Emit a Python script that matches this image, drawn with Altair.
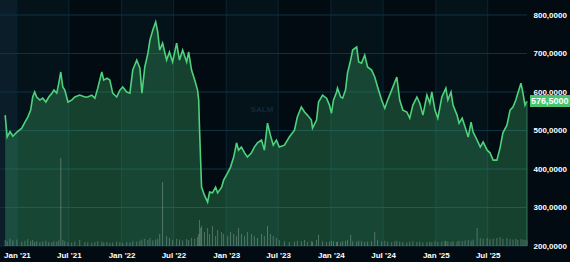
import altair as alt
import pandas as pd

# ---- data (SALM, NOK) ----
dates = [
    "2020-11-21", "2020-11-28", "2020-12-08", "2020-12-18", "2021-01-01", "2021-01-18", "2021-01-29",
    "2021-02-08", "2021-02-18", "2021-02-25", "2021-03-04", "2021-03-11", "2021-03-22", "2021-04-01",
    "2021-04-12", "2021-04-22", "2021-05-03", "2021-05-10", "2021-05-20", "2021-05-27", "2021-06-03",
    "2021-06-10", "2021-06-17", "2021-06-28", "2021-07-11", "2021-07-22", "2021-08-08", "2021-08-26",
    "2021-09-05", "2021-09-19", "2021-09-30", "2021-10-10", "2021-10-24", "2021-10-31", "2021-11-11",
    "2021-11-21", "2021-12-01", "2021-12-15", "2021-12-26", "2022-01-05", "2022-01-19", "2022-01-30",
    "2022-02-09", "2022-02-23", "2022-03-06", "2022-03-13", "2022-03-23", "2022-04-03", "2022-04-10",
    "2022-04-20", "2022-04-30", "2022-05-07", "2022-05-14", "2022-05-24", "2022-06-07", "2022-06-17",
    "2022-06-28", "2022-07-12", "2022-07-22", "2022-08-02", "2022-08-16", "2022-08-23", "2022-09-02",
    "2022-09-13", "2022-09-23", "2022-09-27", "2022-09-30", "2022-10-04", "2022-10-07", "2022-10-17",
    "2022-10-28", "2022-11-04", "2022-11-14", "2022-11-25", "2022-12-02", "2022-12-16", "2022-12-23",
    "2023-01-06", "2023-01-16", "2023-01-27", "2023-02-06", "2023-02-13", "2023-02-23", "2023-03-06",
    "2023-03-16", "2023-03-30", "2023-04-09", "2023-04-20", "2023-05-04", "2023-05-14", "2023-05-25",
    "2023-06-04", "2023-06-14", "2023-06-25", "2023-07-05", "2023-07-23", "2023-08-09", "2023-08-27",
    "2023-09-06", "2023-09-20", "2023-10-01", "2023-10-11", "2023-10-25", "2023-10-29", "2023-11-12",
    "2023-11-19", "2023-12-03", "2023-12-17", "2023-12-27", "2024-01-03", "2024-01-10", "2024-01-21",
    "2024-01-24", "2024-02-04", "2024-02-11", "2024-02-21", "2024-02-28", "2024-03-10", "2024-03-17",
    "2024-03-31", "2024-04-07", "2024-04-17", "2024-04-28", "2024-05-08", "2024-05-22", "2024-06-02",
    "2024-06-12", "2024-06-26", "2024-07-07", "2024-07-17", "2024-07-31", "2024-08-11", "2024-08-18",
    "2024-08-28", "2024-09-08", "2024-09-22", "2024-10-02", "2024-10-13", "2024-10-27", "2024-11-06",
    "2024-11-17", "2024-12-01", "2024-12-11", "2024-12-18", "2024-12-29", "2025-01-08", "2025-01-22",
    "2025-02-02", "2025-02-05", "2025-02-12", "2025-02-23", "2025-03-02", "2025-03-16", "2025-03-23",
    "2025-04-03", "2025-04-13", "2025-04-24", "2025-05-04", "2025-05-11", "2025-05-25", "2025-06-05",
    "2025-06-15", "2025-06-29", "2025-07-09", "2025-07-20", "2025-08-02", "2025-08-13", "2025-08-23",
    "2025-09-06", "2025-09-17", "2025-09-27", "2025-10-07", "2025-10-14", "2025-10-25", "2025-11-01",
    "2025-11-08", "2025-11-15",
]
prices = [
    540, 483, 497, 485, 496, 506, 522,
    535, 553, 587, 600, 587, 579, 584,
    574, 587, 597, 605, 597, 623, 652,
    613, 605, 574, 579, 587, 592, 587,
    587, 592, 584, 610, 652, 631, 636,
    631, 597, 587, 605, 613, 600, 597,
    657, 683, 662, 597, 665, 701, 735,
    761, 782, 756, 709, 727, 683, 704,
    678, 727, 683, 709, 678, 704, 657,
    631, 605, 579, 501, 416, 353, 332,
    314, 340, 338, 353, 338, 353, 371,
    390, 405, 431, 468, 449, 457, 442,
    431, 442, 457, 468, 475, 449, 519,
    488, 462, 475, 457, 462, 483, 501,
    535, 561, 548, 540, 527, 506, 527,
    574, 592, 584, 566, 545, 579, 600,
    610, 587, 584, 605, 649, 683, 709,
    717, 678, 675, 696, 665, 657, 639,
    613, 579, 558, 579, 605, 626, 639,
    579, 553, 548, 532, 566, 587, 571,
    540, 592, 571, 600, 553, 532, 587,
    605, 610, 579, 600, 566, 540, 519,
    532, 509, 483, 522, 496, 475, 457,
    470, 449, 442, 423, 423, 455, 494,
    514, 553, 561, 579, 597, 623, 597,
    566, 576.5,
]
volumes = [
    150, 120, 180, 140, 160, 110, 130,
    170, 120, 150, 100, 120, 90, 110,
    130, 100, 90, 120, 110, 140, 2200,
    150, 120, 100, 90, 110, 150, 100,
    90, 80, 100, 120, 110, 90, 100,
    80, 90, 110, 100, 80, 100, 90,
    120, 110, 130, 160, 180, 150, 200,
    140, 160, 180, 300, 1600, 250, 200,
    150, 180, 160, 140, 170, 150, 200,
    180, 220, 300, 650, 450, 500, 350,
    450, 300, 500, 250, 400, 350, 300,
    250, 350, 300, 250, 450, 300, 250,
    350, 300, 250, 200, 300, 250, 500,
    300, 250, 200, 150, 120, 100, 110,
    130, 120, 150, 100, 120, 110, 150,
    280, 120, 100, 110, 130, 120, 100,
    110, 90, 120, 130, 150, 280, 120,
    110, 130, 120, 100, 110, 120, 350,
    150, 120, 130, 110, 100, 120, 130,
    110, 100, 90, 110, 120, 100, 110,
    90, 100, 110, 90, 120, 100, 110,
    130, 120, 110, 100, 120, 110, 130,
    120, 140, 150, 130, 160, 450, 200,
    180, 200, 170, 180, 200, 220, 180,
    200, 170, 160, 180, 150, 170, 160,
    150, 140,
]
x_ticks = [(2021, 1), (2021, 7), (2022, 1), (2022, 7), (2023, 1), (2023, 7),
           (2024, 1), (2024, 7), (2025, 1), (2025, 7)]
y_ticks = [200, 300, 400, 500, 600, 700, 800]
band_start = ["2020-11-03", "2021-01-01", "2022-01-01", "2023-01-01", "2024-01-01", "2025-01-01"]
band_end = ["2021-01-01", "2021-07-01", "2022-07-01", "2023-07-01", "2024-07-01", "2025-07-01"]
band_shade = ["#0a1d28", "#04121a", "#04121a", "#04121a", "#04121a", "#04121a"]
ticker = "SALM"

# ---- styling ----
BG = "#020b11"
LINE = "#4fd27c"
GRID = "#0e3242"
W, H = 527, 246
Y_DOMAIN = [200, 839]

df = pd.DataFrame({"date": dates, "price": prices, "volume": volumes})
last = df.tail(1)
grid_x = pd.DataFrame({"date": [f"{y}-{m:02d}-01" for y, m in x_ticks]})
grid_y = pd.DataFrame({"v": y_ticks})
bands = pd.DataFrame({"s": band_start, "e": band_end, "c": band_shade})

xscale = alt.Scale(type="utc",
                   domain=[alt.DateTime(year=2020, month=11, date=3, utc=True),
                           alt.DateTime(year=2025, month=11, date=15, utc=True)])
yscale = alt.Scale(domain=Y_DOMAIN, nice=False, zero=False)

XAXIS = alt.Axis(
    values=[alt.DateTime(year=y, month=m, date=1, utc=True) for y, m in x_ticks],
    labelExpr="utcFormat(datum.value, '%b') + \" '\" + utcFormat(datum.value, '%y')",
    labelColor="#ffffff", labelFontSize=8, labelFontWeight="bold", labelFont="Liberation Sans",
    labelPadding=5, ticks=False, domain=False, grid=False, title=None, labelAngle=0,
    labelOverlap=False,
)
YAXIS = alt.Axis(
    values=y_ticks, orient="right",
    labelExpr="replace(format(datum.value, '.4f'), '.', ',')",
    labelColor="#ffffff", labelFontSize=8, labelFontWeight="bold", labelFont="Liberation Sans",
    labelPadding=6, ticks=False, domain=False, grid=False, title=None, labelAlign="left",
    labelOverlap=False,
)


def X(field):
    return alt.X(field, scale=xscale, axis=XAXIS, title=None)


def Y(field):
    return alt.Y(field, scale=yscale, axis=YAXIS, title=None)


band_layer = alt.Chart(bands).mark_rect().encode(
    x=X("s:T"), x2="e:T",
    color=alt.Color("c:N", scale=None),
)
vgrid = alt.Chart(grid_x).mark_rule(color="#0a2632", strokeWidth=1).encode(x=X("date:T"))
hgrid = alt.Chart(grid_y).mark_rule(color=GRID, strokeWidth=1.2).encode(y=Y("v:Q"))
area = alt.Chart(df).mark_area(color=LINE, opacity=0.27).encode(
    x=X("date:T"), y=Y("price:Q"), y2=alt.datum(200),
)
vol = alt.Chart(df).transform_calculate(
    vtop="200 + datum.volume * 0.104"
).mark_rule(color="#9ab0a8", opacity=0.45, strokeWidth=1).encode(
    x=X("date:T"), y=Y("vtop:Q"), y2=alt.datum(200),
)
line = alt.Chart(df).mark_line(color=LINE, strokeWidth=1.6).encode(
    x=X("date:T"), y=Y("price:Q"),
)
edge = alt.Chart(last).mark_rule(color="#2f7a5a", strokeWidth=1).encode(
    x=X("date:T"), y=Y("price:Q"), y2=alt.datum(200),
)
box = alt.Chart(last).mark_rule(color="#46c46e", strokeWidth=12, strokeCap="butt").encode(
    x=alt.value(W + 3), x2=alt.value(W + 43), y=Y("price:Q"),
)
box_text = alt.Chart(last).transform_calculate(
    lbl="replace(format(datum.price, '.4f'), '.', ',')"
).mark_text(color="#ffffff", fontSize=9, fontWeight="bold", font="Liberation Sans",
            align="left", baseline="middle").encode(
    x=alt.value(W + 4), y=Y("price:Q"), text="lbl:N",
)
watermark = alt.Chart(pd.DataFrame({"t": [ticker]})).mark_text(
    color="#112a37", fontSize=8, fontWeight="bold", font="Liberation Sans"
).encode(x=alt.value(262), y=alt.value(110), text="t:N")

chart = alt.layer(
    band_layer, vgrid, hgrid, watermark, area, vol, line, edge, box, box_text
).properties(
    width=W, height=H, background=BG,
    padding={"left": 0, "top": 0, "right": 43, "bottom": 16},
    autosize=alt.AutoSizeParams(type="none"),
).configure_view(stroke=None)

chart.save("out.html", embed_options={"renderer": "svg", "actions": False})
